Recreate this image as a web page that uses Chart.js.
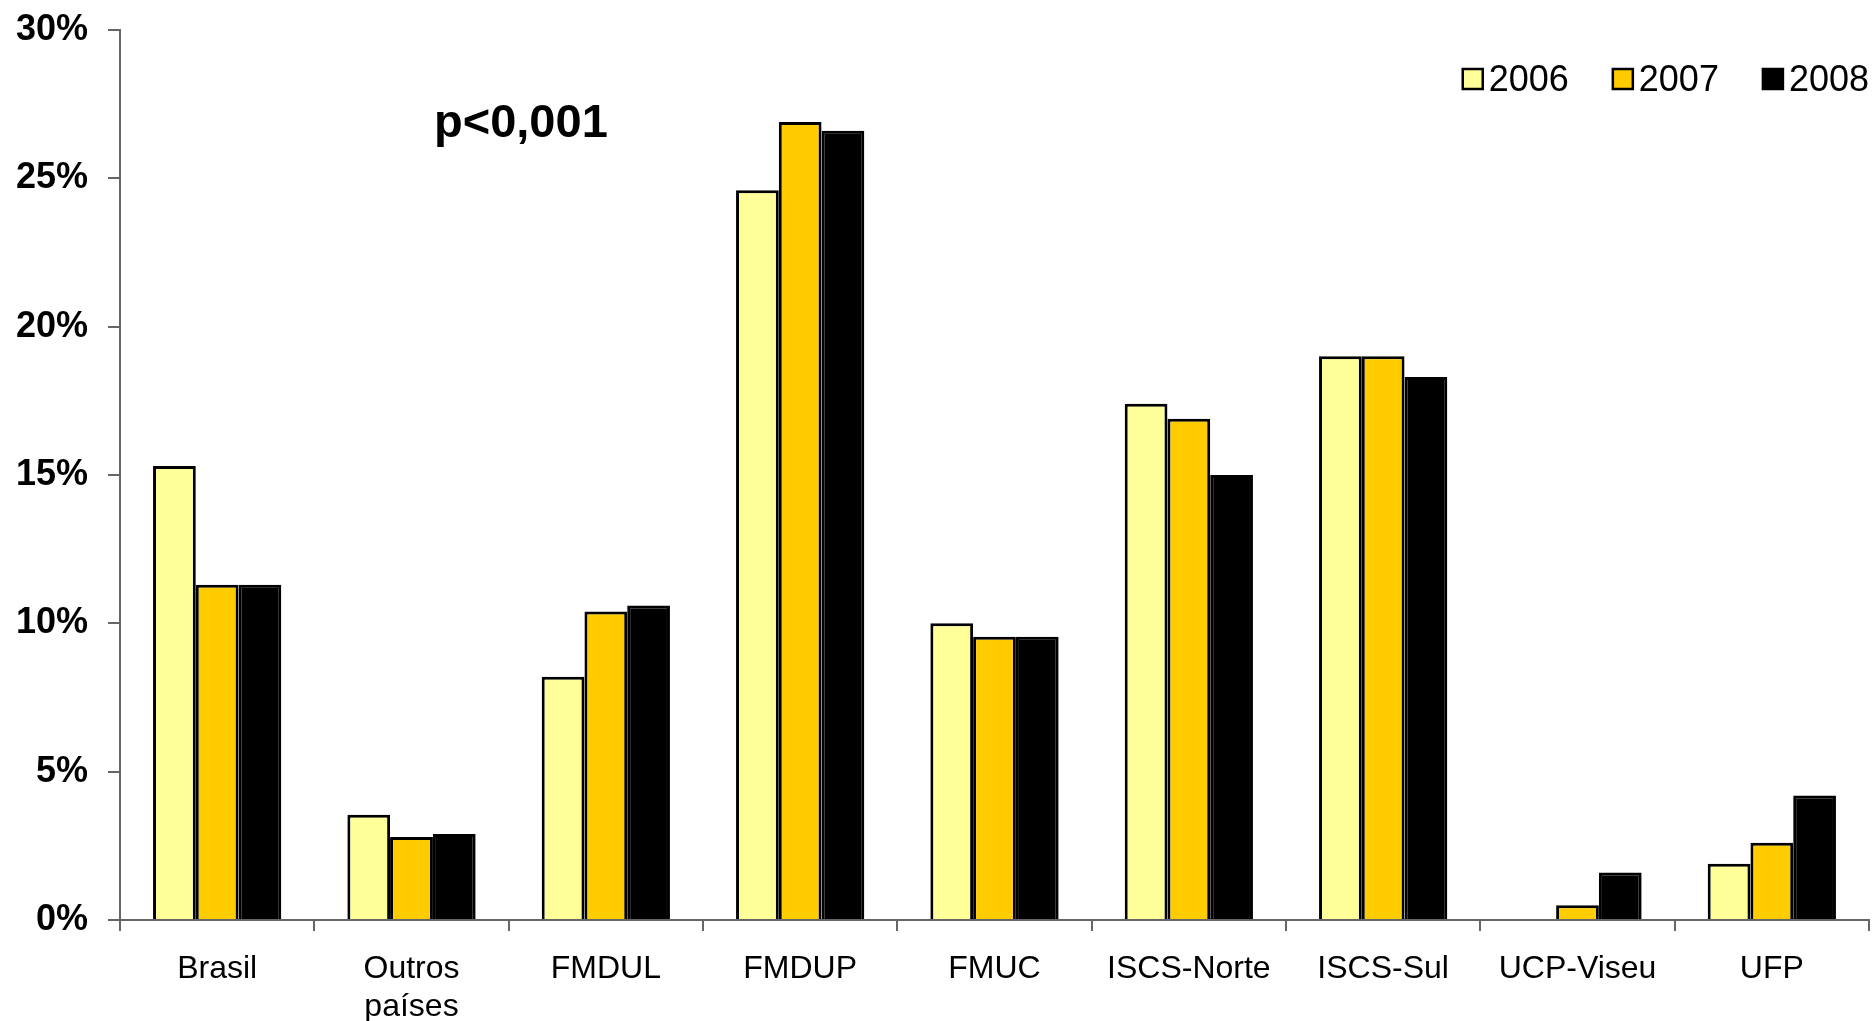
<!DOCTYPE html>
<html lang="pt">
<head>
    <meta charset="UTF-8">
    <title>Distribuição por origem 2006-2008</title>
    <script src="https://cdn.jsdelivr.net/npm/chart.js"></script>
    <style>
        html, body {
            margin: 0;
            padding: 0;
            background: #ffffff;
        }
        .chart-box {
            position: relative;
            width: 1875px;
            height: 1021px;
        }
    </style>
</head>
<body>
    <div class="chart-box">
        <canvas id="origemChart"></canvas>
    </div>
    <script>
        // Data (percentages)
        const categories = ['Brasil', ['Outros', 'países'], 'FMDUL', 'FMDUP', 'FMUC', 'ISCS-Norte', 'ISCS-Sul', 'UCP-Viseu', 'UFP'];
        const years = ['2006', '2007', '2008'];
        const values2006 = [15.3, 3.55, 8.2, 24.6, 10.0, 17.4, 19.0, 0, 1.9];
        const values2007 = [11.3, 2.8, 10.4, 26.9, 9.55, 16.9, 19.0, 0.5, 2.6];
        const values2008 = [11.3, 2.9, 10.6, 26.6, 9.55, 15.0, 18.3, 1.6, 4.2];
        const yTicks = [0, 5, 10, 15, 20, 25, 30];
        const colors = ['#FFFF99', '#FFCC00', '#000000'];

        const axisColor = '#666666';

        // Legend drawn in the top right corner of the plot area
        const cornerLegend = {
            id: 'cornerLegend',
            afterDraw(chart) {
                const ctx = chart.ctx;
                const area = chart.chartArea;
                const box = 20;
                const gap = 6;
                const spacing = 44;
                const y = 79;
                ctx.save();
                ctx.font = '36px "Liberation Sans", Arial, sans-serif';
                ctx.textBaseline = 'middle';
                let x = area.right;
                const items = chart.data.datasets.slice().reverse();
                items.forEach(ds => {
                    const w = ctx.measureText(ds.label).width;
                    const textX = x - w;
                    const boxX = textX - gap - box;
                    ctx.fillStyle = ds.backgroundColor;
                    ctx.fillRect(boxX, y - box / 2, box, box);
                    ctx.lineWidth = 2.5;
                    ctx.strokeStyle = '#000000';
                    ctx.strokeRect(boxX, y - box / 2, box, box);
                    ctx.fillStyle = '#000000';
                    ctx.textAlign = 'left';
                    ctx.fillText(ds.label, textX, y + 2);
                    x = boxX - spacing;
                });
                // significance note
                ctx.font = 'bold 47px "Liberation Sans", Arial, sans-serif';
                ctx.textBaseline = 'alphabetic';
                ctx.fillText('p<0,001', 434, 137);
                ctx.restore();
            }
        };

        const chartData = {
            labels: categories,
            datasets: [values2006, values2007, values2008].map((vals, i) => ({
                label: years[i],
                data: vals,
                backgroundColor: colors[i],
                borderColor: '#000000',
                borderWidth: 3,
                categoryPercentage: 0.66,
                barPercentage: 1.0
            }))
        };

        const chartConfig = {
            type: 'bar',
            data: chartData,
            options: {
                responsive: true,
                maintainAspectRatio: false,
                animation: false,
                layout: {
                    padding: { top: 30, right: 6, left: 0, bottom: 0 }
                },
                plugins: {
                    legend: { display: false },
                    tooltip: { enabled: false }
                },
                scales: {
                    x: {
                        grid: {
                            offset: true,
                            drawOnChartArea: false,
                            drawTicks: true,
                            tickLength: 11,
                            color: axisColor,
                            lineWidth: 2
                        },
                        border: { color: axisColor, width: 2 },
                        ticks: {
                            color: '#000000',
                            padding: 19,
                            maxRotation: 0,
                            autoSkip: false,
                            font: { family: '"Liberation Sans", Arial, sans-serif', size: 32 }
                        },
                        afterFit: scale => {
                            scale.height = 101;
                            scale.paddingLeft = 0;
                            scale.paddingRight = 0;
                        }
                    },
                    y: {
                        min: 0,
                        max: 30,
                        afterBuildTicks: scale => {
                            scale.ticks = yTicks.map(v => ({ value: v }));
                        },
                        grid: {
                            drawOnChartArea: false,
                            drawTicks: true,
                            tickLength: 12,
                            color: axisColor,
                            lineWidth: 2
                        },
                        border: { color: axisColor, width: 2 },
                        ticks: {
                            color: '#000000',
                            padding: 20,
                            font: { family: '"Liberation Sans", Arial, sans-serif', size: 36, weight: 'bold' },
                            callback: v => v + '%'
                        },
                        afterFit: scale => {
                            scale.width = 120;
                            scale.paddingTop = 0;
                            scale.paddingBottom = 0;
                        }
                    }
                }
            },
            plugins: [cornerLegend]
        };

        const origemChart = new Chart(
            document.getElementById('origemChart'),
            chartConfig
        );
    </script>
</body>
</html>
